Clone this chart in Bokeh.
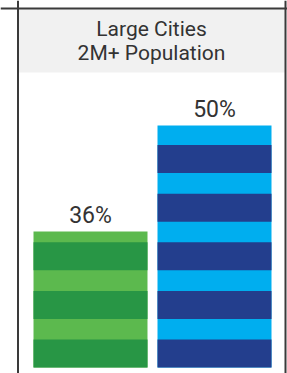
from bokeh.plotting import figure
from bokeh.models import Range1d, Span, BoxAnnotation, Label, ColumnDataSource
from bokeh.core.properties import value
from bokeh.embed import file_html
from bokeh.resources import INLINE

# ---- data ----
categories = ["Series 1", "Series 2"]
values = [36, 50]
value_labels = ["36%", "50%"]
title_lines = ["Large Cities", "2M+ Population"]
light_colors = ["#5cb94e", "#00aeef"]
dark_colors = ["#289645", "#233e8d"]

# ---- layout / style constants ----
W_PX, H_PX = 287, 373
PX_PER_Y = 7.571
ZERO_PX = 503.6                       # pixel row of value 0 (below view)
Y1 = ZERO_PX / PX_PER_Y
Y0 = Y1 - H_PX / PX_PER_Y
BASE = (ZERO_PX - 367) / PX_PER_Y     # visible bottom of bars
PX_PER_X = 124.0
X0 = 0.5 - 90 / PX_PER_X
X1 = X0 + W_PX / PX_PER_X
BAR_W = 114 / PX_PER_X
STRIPE_P = 6.42       # stripe period (value units)
STRIPE_D = 3.70       # dark band height (value units)
TXT = "#333333"

def vy(px):
    return (ZERO_PX - px) / PX_PER_Y

def vx(px):
    return X0 + px / PX_PER_X

p = figure(width=W_PX, height=H_PX, output_backend="svg", toolbar_location=None,
           x_range=Range1d(X0, X1), y_range=Range1d(Y0, Y1),
           x_axis_location=None, y_axis_location=None, min_border=0)
p.grid.visible = False
p.outline_line_color = None
p.background_fill_color = "white"
p.border_fill_color = "white"

xs = [i + 0.5 for i in range(len(categories))]
xl, xr = vx(17.5), vx(285)
xc = vx(151)

# header band
p.add_layout(BoxAnnotation(bottom=vy(72), left=xl, right=xr, top=vy(8), fill_color="#f1f1f1",
                           fill_alpha=1, line_color=None, level="underlay"))

# bars (light base)
p.vbar(x=xs, top=values, bottom=BASE, width=BAR_W, fill_color=light_colors, line_color=None)

# dark stripes
sx, sb, st, sc = [], [], [], []
for x, v, c in zip(xs, values, dark_colors):
    b = BASE
    while b < v:
        sx.append(x); sb.append(b); st.append(min(b + STRIPE_D, v)); sc.append(c)
        b += STRIPE_P
p.vbar(x=sx, bottom=sb, top=st, width=BAR_W, fill_color=sc, line_color=None)

# value labels
src = ColumnDataSource(dict(x=xs, y=[v + 16.5 / PX_PER_Y for v in values], t=value_labels))
p.text(x="x", y="y", text="t", source=src, text_align="center", text_baseline="alphabetic",
       text_font=value("Roboto"), text_font_size="23px", text_color=TXT)

# title
for txt, ypx in zip(title_lines, [28.2, 52.2]):
    p.add_layout(Label(x=xc, y=vy(ypx), text=txt, text_align="center", text_baseline="alphabetic",
                       text_font="Roboto", text_font_size="21px", text_color=TXT))

# border (left, right, top)
for loc in (xl, xr):
    p.add_layout(Span(location=loc, dimension="height", line_color="#3a3a3a", line_width=2))
p.add_layout(Span(location=vy(8), dimension="width", line_color="#3a3a3a", line_width=2))

open("out.html", "w").write(file_html(p, INLINE))
